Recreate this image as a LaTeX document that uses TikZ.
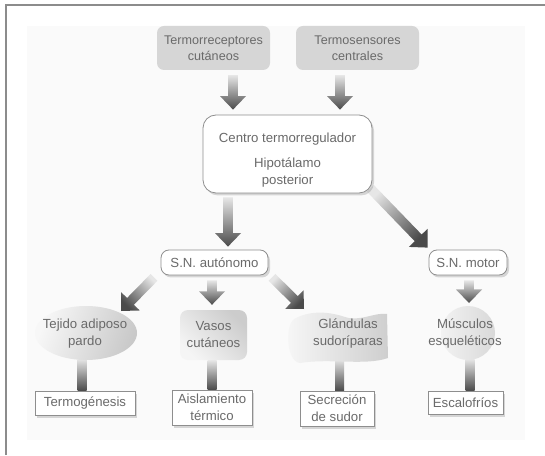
\documentclass[tikz,border=0pt]{standalone}
\usepackage{fontspec}
\setmainfont{Liberation Sans}
\usetikzlibrary{calc,shadows}
\definecolor{txt}{HTML}{6A6A6A}
\definecolor{framec}{HTML}{8C8C8C}
\definecolor{bgc}{HTML}{FAFAFA}
\definecolor{topfill}{HTML}{D6D6D6}
\definecolor{boxline}{HTML}{8E8E8E}
\definecolor{alight}{HTML}{E6E6E6}
\definecolor{adark}{HTML}{4A4A4A}
\pgfdeclarelayer{bg}
\pgfsetlayers{bg,main}
\newcommand\fatarrow[3]{%
 \shade[top color=alight,bottom color=adark,shading angle=#3]
  let \p1=(#1),\p2=(#2),
      \n1={veclen(\x2-\x1,\y2-\y1)},
      \n2={(\x2-\x1)/\n1},\n3={(\y2-\y1)/\n1},
      \p3=({\x2-13.5*\n2},{\y2-13.5*\n3})
  in ({\x1-4.8*\n3},{\y1+4.8*\n2})
  -- ({\x3-4.8*\n3},{\y3+4.8*\n2})
  -- ({\x3-13*\n3},{\y3+13*\n2})
  -- (\p2)
  -- ({\x3+13*\n3},{\y3-13*\n2})
  -- ({\x3+4.8*\n3},{\y3-4.8*\n2})
  -- ({\x1+4.8*\n3},{\y1-4.8*\n2}) -- cycle;}
\newcommand\fatbar[2]{%
 \shade[top color=alight,bottom color=adark]
  let \p1=(#1),\p2=(#2) in ({\x1-4.5pt},{\y1}) rectangle ({\x1+4.5pt},{\y2});}
\begin{document}
\begin{tikzpicture}[x=1pt,y=1pt,
  every node/.style={font=\fontsize{13.2pt}{17pt}\selectfont, text=txt, align=center, inner sep=0pt},
  topbox/.style={fill=topfill, rounded corners=7pt},
  roundbox/.style={fill=white, draw=boxline, line width=0.8pt, rounded corners=8pt,
     drop shadow={shadow xshift=2pt,shadow yshift=-2.5pt,opacity=0.3}},
  sqbox/.style={fill=white, draw=boxline, line width=0.8pt,
     drop shadow={shadow xshift=2pt,shadow yshift=-2.5pt,opacity=0.3}},
  plain/.style={}]
\useasboundingbox (0,0) rectangle (545,455);

% nodes
\node[topbox, minimum width=113pt, minimum height=44pt, font=\fontsize{12.6pt}{16pt}\selectfont] (tr) at (213.5,407) {Termorreceptores\\cutáneos};
\node[topbox, minimum width=123pt, minimum height=44pt, font=\fontsize{12.6pt}{16pt}\selectfont] (ts) at (357.5,407) {Termosensores\\centrales};
\node[roundbox, rounded corners=13pt, minimum width=169pt, minimum height=78pt] (centro) at (287.5,301)
  {\rule{0pt}{21pt}Centro termorregulador\\[8pt]Hipotálamo\\posterior};
\node[roundbox, minimum width=107pt, minimum height=25pt] (sna) at (214.5,192.5) {S.N. autónomo};
\node[roundbox, minimum width=78pt, minimum height=25pt] (snm) at (468,192.5) {S.N. motor};

% shaded shapes
\shade[top color=gray!42, bottom color=gray!6, shading angle=-110] (86,122) ellipse [x radius=51, y radius=27];
\shade[top color=gray!38, bottom color=gray!6, shading angle=-90]
  (296,137) .. controls (312,145) and (330,143) .. (345,138)
  .. controls (360,133) and (375,143) .. (387,141)
  -- (388,97)
  .. controls (365,89) and (330,97) .. (300,92)
  .. controls (286,93) and (284,133) .. (296,137) -- cycle;
\shade[top color=gray!30, bottom color=gray!10, shading angle=-90] (468,122) circle [radius=27];

\node[plain] (tej) at (85,121) {Tejido adiposo\\pardo};
\node[top color=gray!40, bottom color=gray!8, shading angle=-45, rounded corners=8pt,
  minimum width=67pt, minimum height=50pt] (vasos) at (213.5,120) {Vasos\\cutáneos};
\node[plain] (gland) at (348,121) {Glándulas\\sudoríparas};
\node[plain] (musc) at (465,121) {Músculos\\esqueléticos};

\node[sqbox, minimum width=100pt, minimum height=24pt] (termo) at (85,52) {Termogénesis};
\node[sqbox, minimum width=80pt, minimum height=35pt] (aisl) at (212,47.5) {Aislamiento\\térmico};
\node[sqbox, minimum width=74pt, minimum height=35pt] (secr) at (337,46.5) {Secreción\\de sudor};
\node[sqbox, minimum width=75pt, minimum height=23pt] (esc) at (465.5,52.5) {Escalofríos};

\begin{pgfonlayer}{bg}
\fill[white] (0,0) rectangle (545,455);
\fill[bgc] (27,15) rectangle (525,429);
\draw[framec, line width=2pt] (6,0) -- (6,450) -- (545,450);
% arrows
\fatarrow{[shift={(19.5pt,-5pt)}]tr.south}{[shift={(-54.5pt,5pt)}]centro.north}{0}
\fatarrow{[shift={(-17.5pt,-5pt)}]ts.south}{[shift={(52.5pt,5pt)}]centro.north}{0}
\fatarrow{[shift={(-59.5pt,-4pt)}]centro.south}{[shift={(13.5pt,3pt)}]sna.north}{0}
\fatarrow{[shift={(-2pt,5pt)}]centro.south east}{[shift={(-1pt,2pt)}]snm.north west}{45}
\fatarrow{[shift={(-60.5pt,-2pt)}]sna.south}{[shift={(36pt,23pt)}]tej.center}{-45}
\fatarrow{[shift={(-2.5pt,-5pt)}]sna.south}{[shift={(-1.5pt,5pt)}]vasos.north}{0}
\fatarrow{[shift={(57.5pt,-2pt)}]sna.south}{[shift={(-44pt,25pt)}]gland.center}{45}
\fatarrow{[shift={(1pt,-5pt)}]snm.south}{[shift={(4pt,31pt)}]musc.center}{0}
% bars
\fatbar{[shift={(-3pt,-25pt)}]tej.center}{termo.north}
\fatbar{[shift={(-1.5pt,0pt)}]vasos.south}{aisl.north}
\fatbar{[shift={(-8.5pt,-25pt)}]gland.center}{secr.north}
\fatbar{[shift={(5pt,-25pt)}]musc.center}{esc.north}
\end{pgfonlayer}
\end{tikzpicture}
\end{document}
